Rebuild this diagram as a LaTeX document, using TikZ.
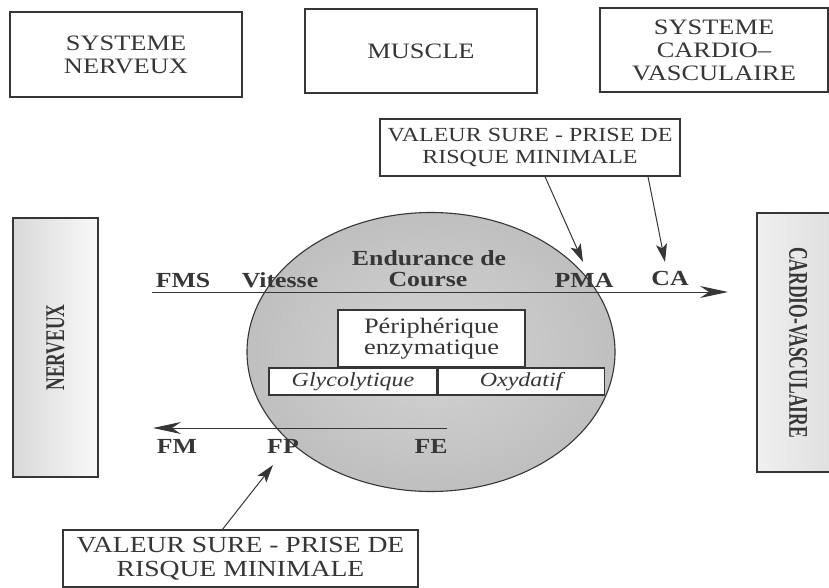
\documentclass[tikz,border=0pt]{standalone}
\usepackage{fontspec}
\setmainfont{Liberation Serif}[FakeStretch=1.2]
\newfontfamily\vertfont{Liberation Serif}[FakeStretch=0.65]
\usetikzlibrary{arrows.meta, positioning, shapes.geometric}
\definecolor{inkgray}{HTML}{363636}

\begin{document}
\begin{tikzpicture}[x=1pt, y=-1pt, color=inkgray, line width=1pt,
    sysbox/.style={draw, line width=1.2pt, align=center, inner sep=0pt, font=\fontsize{22}{23}\selectfont},
    callout/.style={draw, line width=1.2pt, fill=white, align=center, inner sep=0pt},
    lab/.style={anchor=base, font=\bfseries\fontsize{21.5}{23}\selectfont},
    enzbox/.style={draw, line width=1.1pt, fill=white, inner sep=0pt, minimum height=27pt, font=\itshape\fontsize{20}{22}\selectfont},
    sidebox/.style={draw, line width=1.2pt, inner sep=0pt, font=\vertfont\bfseries\fontsize{27}{28}\selectfont},
    mainarrow/.style={-{Stealth[length=28pt, width=12pt, inset=9pt]}, line width=1pt},
    pointer/.style={-{Stealth[length=18pt, width=11pt, inset=4pt]}, line width=1pt}]
    \useasboundingbox (0,0) rectangle (829,588);

    % the three systems
    \node[sysbox, minimum width=232pt, minimum height=85pt] (sysnerv) at (126,54.5) {SYSTEME\\NERVEUX};
    \node[sysbox, minimum width=232pt, minimum height=84pt] (sysmusc) at (421,51) {MUSCLE};
    \node[sysbox, minimum width=228pt, minimum height=84pt] (syscard) at (714,50) {SYSTEME\\CARDIO--\\VASCULAIRE};

    % side boxes
    \node[sidebox, rotate=90, minimum width=259pt, minimum height=85pt,
        left color=gray!30, right color=gray!5] (nerv) at (55.5,347.5) {NERVEUX};
    \node[sidebox, rotate=-90, minimum width=259pt, minimum height=82pt,
        left color=gray!12, right color=gray!26] (card) at (798,342.5) {CARDIO-VASCULAIRE};

    % muscle
    \node[draw, ellipse, line width=1.1pt, minimum width=368pt, minimum height=279pt,
        inner color=gray!34, outer color=gray!50] (core) at (431,352) {};

    \coordinate (hstart) at (152,292);
    \coordinate (hend) at (728,292);
    \coordinate (bstart) at (447,428);
    \coordinate (bend) at (153,428);
    \draw[mainarrow] (hstart) -- (hend);
    \draw[mainarrow] (bstart) -- (bend);

    \node[lab] (fms) at (183,287) {FMS};
    \node[lab] (vit) at (280,287) {Vitesse};
    \node[lab] (endu) at (429,265) {Endurance de};
    \node[lab] (course) at (428,286) {Course};
    \node[lab] (pma) at (584,287) {PMA};
    \node[lab] (ca) at (670,285) {CA};
    \node[lab] (fm) at (177,453) {FM};
    \node[lab] (fp) at (283,453) {FP};
    \node[lab] (fe) at (431,453) {FE};

    \node[draw, line width=1.1pt, fill=white, align=center, inner sep=0pt, minimum width=187pt, minimum height=57pt,
        font=\fontsize{22}{21}\selectfont] (peri) at (431.5,338.5) {Périphérique\\enzymatique};
    \node[enzbox, minimum width=168pt] (glyco) at (353,381.5) {Glycolytique};
    \node[enzbox, minimum width=166pt, right=0pt of glyco] (oxy) {Oxydatif};

    % callouts
    \node[callout, minimum width=300pt, minimum height=57pt, font=\fontsize{20}{22}\selectfont]
        (calltop) at (530,147.5) {VALEUR SURE - PRISE DE\\RISQUE MINIMALE};
    \node[callout, minimum width=355pt, minimum height=57pt, font=\fontsize{23}{24}\selectfont]
        (callbot) at (240.5,558.5) {VALEUR SURE - PRISE DE\\RISQUE MINIMALE};

    \coordinate (pmatip) at (583,262);
    \coordinate (catip) at (665,262);
    \coordinate (fptip) at (273,465);
    \draw[pointer] ([xshift=15pt]calltop.south) -- (pmatip);
    \draw[pointer] ([xshift=118pt]calltop.south) -- (catip);
    \draw[pointer] ([xshift=-18pt]callbot.north) -- (fptip);
\end{tikzpicture}
\end{document}
